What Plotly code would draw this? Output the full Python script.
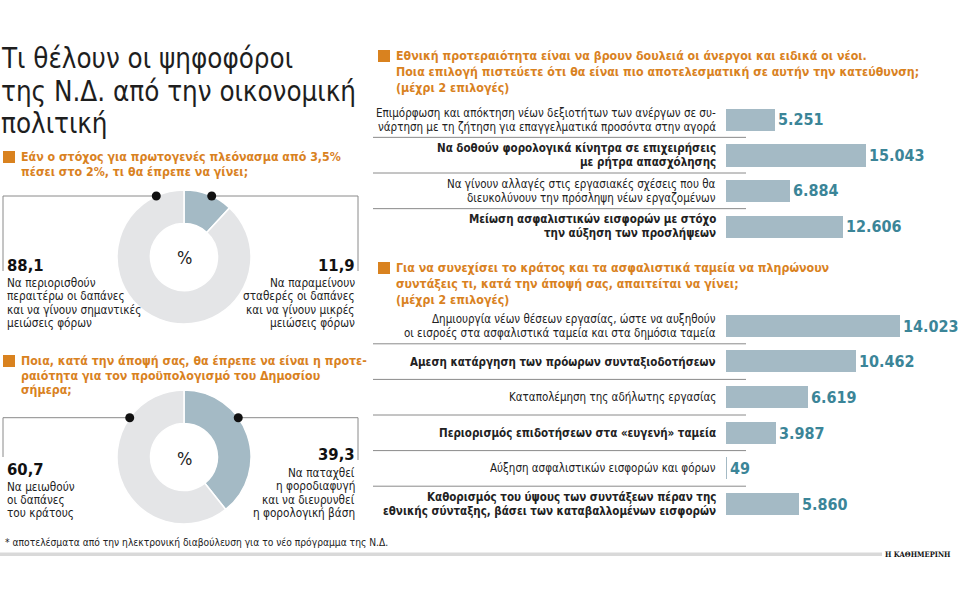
import plotly.graph_objects as go

# ---------------- DATA ----------------
title_lines = ["Τι θέλουν οι ψηφοφόροι", "της Ν.Δ. από την οικονομική", "πολιτική"]

q1_lines = ["Εάν ο στόχος για πρωτογενές πλεόνασμα από 3,5%", "πέσει στο 2%, τι θα έπρεπε να γίνει;"]
donut1_values = [11.9, 88.1]
donut1_labels = [["Να παραμείνουν", "σταθερές οι δαπάνες", "και να γίνουν μικρές", "μειώσεις φόρων"],
                 ["Να περιορισθούν", "περαιτέρω οι δαπάνες", "και να γίνουν σημαντικές", "μειώσεις φόρων"]]

q2_lines = ["Ποια, κατά την άποψή σας, θα έπρεπε να είναι η προτε-",
            "ραιότητα για τον προϋπολογισμό του Δημοσίου", "σήμερα;"]
donut2_values = [39.3, 60.7]
donut2_labels = [["Να παταχθεί", "η φοροδιαφυγή", "και να διευρυνθεί", "η φορολογική βάση"],
                 ["Να μειωθούν", "οι δαπάνες", "του κράτους"]]

q3_lines = ["Εθνική προτεραιότητα είναι να βρουν δουλειά οι άνεργοι και ειδικά οι νέοι.",
            "Ποια επιλογή πιστεύετε ότι θα είναι πιο αποτελεσματική σε αυτήν την κατεύθυνση;",
            "(μέχρι 2 επιλογές)"]
bars1_labels = [
    ["Επιμόρφωση και απόκτηση νέων δεξιοτήτων των ανέργων σε συ-",
     "νάρτηση με τη ζήτηση για επαγγελματικά προσόντα στην αγορά"],
    ["Να δοθούν φορολογικά κίνητρα σε επιχειρήσεις", "με ρήτρα απασχόλησης"],
    ["Να γίνουν αλλαγές στις εργασιακές σχέσεις που θα", "διευκολύνουν την πρόσληψη νέων εργαζομένων"],
    ["Μείωση ασφαλιστικών εισφορών με στόχο", "την αύξηση των προσλήψεων"],
]
bars1_values = [5251, 15043, 6884, 12606]
bars1_bold = [False, True, False, True]

q4_lines = ["Για να συνεχίσει το κράτος και τα ασφαλιστικά ταμεία να πληρώνουν",
            "συντάξεις τι, κατά την άποψή σας, απαιτείται να γίνει;",
            "(μέχρι 2 επιλογές)"]
bars2_labels = [
    ["Δημιουργία νέων θέσεων εργασίας, ώστε να αυξηθούν",
     "οι εισροές στα ασφαλιστικά ταμεία και στα δημόσια ταμεία"],
    ["Αμεση κατάργηση των πρόωρων συνταξιοδοτήσεων"],
    ["Καταπολέμηση της αδήλωτης εργασίας"],
    ["Περιορισμός επιδοτήσεων στα «ευγενή» ταμεία"],
    ["Αύξηση ασφαλιστικών εισφορών και φόρων"],
    ["Καθορισμός του ύψους των συντάξεων πέραν της", "εθνικής σύνταξης, βάσει των καταβαλλομένων εισφορών"],
]
bars2_values = [14023, 10462, 6619, 3987, 49, 5860]
bars2_bold = [False, True, False, True, False, True]

footnote = "* αποτελέσματα από την ηλεκτρονική διαβούλευση για το νέο πρόγραμμα της Ν.Δ."
source = "Η ΚΑΘΗΜΕΡΙΝΗ"

# ---------------- STYLE ----------------
W, H = 960, 600
FONT = "DejaVu Sans Condensed, Liberation Sans Narrow, sans-serif"
ORANGE = "#d9821f"
BLUE = "#a4bac5"
LGRAY = "#e4e5e7"
TEAL = "#3b8598"
DARK = "#222222"
LINE = "#8a8a8a"

TITLE_SIZE = 27.5
HEAD_SIZE = 12.3
LABEL_SIZE = 11.5
DONUT_TXT = 11.7
NUM_SIZE = 16.5
VAL_SIZE = 16


def px(x):
    return x / W


def py(y):
    return 1 - y / H


fig = go.Figure()
annotations = []
shapes = []


def add_text(x, y, text, size, color=DARK, bold=False, anchor="left", yref="paper", yshift=0, family=FONT):
    annotations.append(dict(
        x=px(x), y=py(y) if yref == "paper" else y, xref="paper", yref=yref,
        text=text, showarrow=False, xanchor=anchor, yanchor="middle", align=anchor,
        yshift=yshift,
        font=dict(family=family, size=size, color=color, weight="bold" if bold else "normal"),
    ))


def add_line(x0, y0, x1, y1, color=LINE, width=1):
    shapes.append(dict(type="line", xref="paper", yref="paper",
                       x0=px(x0), y0=py(y0), x1=px(x1), y1=py(y1),
                       line=dict(color=color, width=width)))


def heading(x, y0, lines, spacing):
    shapes.append(dict(type="rect", xref="paper", yref="paper",
                       x0=px(x), x1=px(x + 12), y0=py(y0 - 6), y1=py(y0 + 6),
                       fillcolor=ORANGE, line=dict(width=0)))
    for i, ln in enumerate(lines):
        add_text(x + 16, y0 + i * spacing, ln, HEAD_SIZE, ORANGE, bold=True)


# title
for i, ln in enumerate(title_lines):
    add_text(-1, 58 + i * 32.5, ln, TITLE_SIZE, "#1e1e1e")

heading(3, 157, q1_lines, 15)
heading(3, 361, q2_lines, 14.7)
heading(378, 56, q3_lines, 16)
heading(378, 268, q4_lines, 16)


# donuts
def donut(cx, cy, r, values, labels, dot_y, num_y, text_y, line_end):
    fig.add_trace(go.Pie(
        values=values, sort=False, direction="clockwise", rotation=0, hole=0.5,
        marker=dict(colors=[BLUE, LGRAY], line=dict(color="white", width=1.5)),
        textinfo="none", hoverinfo="skip", showlegend=False,
        domain=dict(x=[px(cx - r), px(cx + r)], y=[py(cy + r), py(cy - r)]),
    ))
    add_text(cx, cy + 1, "%", 18, DARK, anchor="center")
    dx = (r ** 2 - (cy - dot_y) ** 2) ** 0.5
    # leader lines
    add_line(cx + dx, dot_y, 358, dot_y)
    add_line(358, dot_y, 358, line_end[0])
    add_line(cx - dx, dot_y, 3, dot_y)
    add_line(3, dot_y, 3, line_end[1])
    for xd in (cx - dx, cx + dx):
        shapes.append(dict(type="circle", xref="paper", yref="paper",
                           x0=px(xd - 4.5), x1=px(xd + 4.5), y0=py(dot_y + 4.5), y1=py(dot_y - 4.5),
                           fillcolor="#111111", line=dict(width=0)))
    # right = first slice, left = second slice
    add_text(357, num_y[0], f"{values[0]:.1f}".replace(".", ","), NUM_SIZE, "#111111", bold=True, anchor="right")
    for i, ln in enumerate(labels[0]):
        add_text(357, text_y[0] + i * 13.3, ln, DONUT_TXT, DARK, anchor="right")
    add_text(5, num_y[1], f"{values[1]:.1f}".replace(".", ","), NUM_SIZE, "#111111", bold=True)
    for i, ln in enumerate(labels[1]):
        add_text(5, text_y[1] + i * 13.3, ln, DONUT_TXT, DARK)


donut(184, 257, 67, donut1_values, donut1_labels, 196, (265, 265), (283, 283), (271, 271))
donut(184, 457, 67, donut2_values, donut2_labels, 417.7, (454, 469), (473, 486.5), (460, 457))


# bar charts
def bars(values, labels, bold, xa, ya, scale, top, bottom):
    n = len(values)
    ys = list(range(n))
    fig.add_trace(go.Bar(
        x=values, y=ys, orientation="h", xaxis=xa, yaxis=ya, width=0.62,
        marker=dict(color=BLUE, line=dict(width=0)),
        texttemplate="%{x:,}", textposition="outside", cliponaxis=False, constraintext="none",
        textfont=dict(family=FONT, size=VAL_SIZE, color=TEAL, weight="bold"),
        hoverinfo="skip", showlegend=False,
    ))
    yref = "y" if ya == "y" else "y2"
    for i, lines in enumerate(labels):
        k = len(lines)
        for j, ln in enumerate(lines):
            add_text(718, i, ln, LABEL_SIZE, DARK, bold=bold[i], anchor="right", yref=yref,
                     yshift=((k - 1) / 2 - j) * 14)
    for i in range(n - 1):
        shapes.append(dict(type="line", xref="paper", yref=yref, x0=px(373), x1=px(746),
                           y0=i + 0.5, y1=i + 0.5, line=dict(color=LINE, width=1)))
    axis_layout = dict(domain=[px(726), 1], range=[0, (W - 726) / scale], visible=False, fixedrange=True)
    yaxis_layout = dict(domain=[py(bottom), py(top)], range=[n - 0.5, -0.5], visible=False, fixedrange=True)
    return axis_layout, yaxis_layout


xa1, ya1 = bars(bars1_values, bars1_labels, bars1_bold, "x", "y", 0.00931, 101.7, 244.3)
xa2, ya2 = bars(bars2_values, bars2_labels, bars2_bold, "x2", "y2", 0.01243, 308.2, 521.8)
ya2["anchor"] = "x2"
xa2["anchor"] = "y2"

# footer
add_text(3, 542, footnote, 10.2, DARK)
shapes.append(dict(type="rect", xref="paper", yref="paper", x0=0, x1=px(882),
                   y0=py(556), y1=py(552.5), fillcolor="#d9d9d9", line=dict(width=0)))
annotations.append(dict(x=px(953), y=py(554), xref="paper", yref="paper", text=source, showarrow=False,
                        xanchor="right", yanchor="middle",
                        font=dict(family="DejaVu Serif Condensed, DejaVu Serif, serif", size=7.5,
                                  color="#111111", weight="bold")))

fig.update_layout(
    width=W, height=H, margin=dict(l=0, r=0, t=0, b=0),
    paper_bgcolor="white", plot_bgcolor="white",
    separators=",.", bargap=0,
    xaxis=xa1, yaxis=ya1, xaxis2=xa2, yaxis2=ya2,
    annotations=annotations, shapes=shapes,
    font=dict(family=FONT, color=DARK),
)

fig.write_html("out.html")
